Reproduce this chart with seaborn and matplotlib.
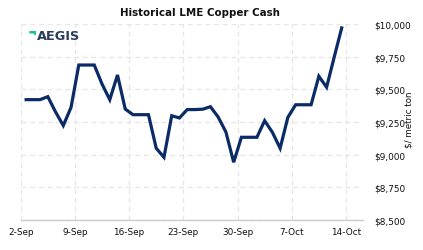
import matplotlib
matplotlib.use("Agg")
import matplotlib.pyplot as plt
import matplotlib.dates as mdates
from matplotlib.patches import Polygon
import seaborn as sns
import pandas as pd

# ---- data ----
start_date = "2021-09-02 12:00"
prices = [9421, 9421, 9421, 9444, 9327, 9223, 9362, 9686, 9686, 9686,
          9541, 9421, 9610, 9349, 9306, 9306, 9306, 9049, 8980, 9298,
          9281, 9345, 9345, 9348, 9367, 9288, 9173, 8942, 9133, 9133,
          9133, 9260, 9171, 9049, 9286, 9382, 9382, 9382, 9600, 9516,
          9751, 9982]
x_ticks = ["2021-09-02", "2021-09-09", "2021-09-16", "2021-09-23",
           "2021-09-30", "2021-10-07", "2021-10-14"]
y_ticks = [8500, 8750, 9000, 9250, 9500, 9750, 10000]
title = "Historical LME Copper Cash"
y_label = "$/ metric ton"

dates = pd.date_range(start_date, periods=len(prices), freq="D")
df = pd.DataFrame({"date": dates, "price": prices})

sns.set_style("white")
plt.rcParams["font.family"] = ["DejaVu Sans"]

W, H = 423, 251
fig = plt.figure(figsize=(W / 100, H / 100), dpi=100)
ax = fig.add_axes([20.7 / W, 1 - 221 / H, (363 - 20.7) / W, (221 - 25) / H])

sns.lineplot(data=df, x="date", y="price", ax=ax, color="#0b2b66",
             linewidth=2.3, solid_joinstyle="miter", solid_capstyle="butt")

ax.set_xlim(pd.Timestamp("2021-09-02"), pd.Timestamp("2021-09-02") + pd.Timedelta(days=44.2))
ax.set_ylim(8500, 10000)
ax.set_xticks(pd.to_datetime(x_ticks))
ax.xaxis.set_major_formatter(mdates.DateFormatter("%-d-%b"))
ax.set_yticks(y_ticks)
ax.set_yticklabels([f"${v:,}" for v in y_ticks])
ax.yaxis.tick_right()

ax.grid(True, color="#e6e6e6", linestyle=(0, (4, 3)), linewidth=0.9)
ax.set_axisbelow(True)
for s in ["top", "left", "right"]:
    ax.spines[s].set_visible(False)
ax.spines["bottom"].set_color("#cccccc")
ax.spines["bottom"].set_linewidth(1.0)
ax.tick_params(axis="both", length=0, labelsize=6.4, colors="#111111")
ax.tick_params(axis="x", pad=5)
ax.tick_params(axis="y", pad=8)
ax.set_xlabel("")
ax.set_ylabel("")

fig.text(200 / W, 1 - 13 / H, title, ha="center", va="center",
         fontsize=7.4, fontweight="bold", color="#111111")
fig.text(409 / W, 1 - 120 / H, y_label, ha="center", va="center",
         rotation=90, fontsize=6.3, color="#111111")

# logo
fig.text(36.5 / W, 1 - 37 / H, "AEGIS", ha="left", va="center",
         fontsize=9.3, fontweight="bold", color="#2a3c5e")
mark = Polygon([(29.3 / W, 1 - 32.0 / H), (36.0 / W, 1 - 32.0 / H),
                (36.0 / W, 1 - 36.5 / H), (33.0 / W, 1 - 34.5 / H),
                (29.3 / W, 1 - 34.5 / H)],
               closed=True, transform=fig.transFigure, color="#21c08e", lw=0)
fig.patches.append(mark)

fig.savefig("out.png", dpi=100)
